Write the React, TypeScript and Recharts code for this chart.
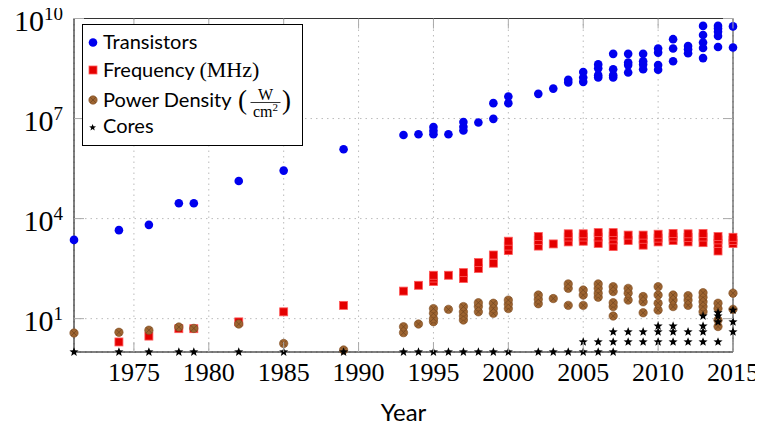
import React from 'react';
import {
  ScatterChart,
  Scatter,
  XAxis,
  YAxis,
  CartesianGrid,
  ReferenceLine,
  Legend,
} from 'recharts';

// [year, value] pairs
const transistors: [number, number][] = [
  [1971, 2300], [1974, 4500], [1976, 6500], [1978, 29000], [1979, 29000],
  [1982, 134000], [1985, 275000], [1989, 1.2e6],
  [1993, 3.2e6], [1994, 3.4e6], [1995, 3.4e6], [1995, 4.3e6], [1995, 5.6e6],
  [1996, 3.4e6], [1997, 4.4e6], [1997, 5.7e6], [1997, 7.9e6], [1998, 7.6e6],
  [1999, 9.8e6], [1999, 2.9e7], [2000, 2.9e7], [2000, 4.6e7],
  [2002, 5.5e7], [2003, 7.9e7], [2004, 1.2e8], [2004, 1.45e8],
  [2005, 1.26e8], [2005, 1.7e8], [2005, 2.5e8],
  [2006, 1.7e8], [2006, 2.0e8], [2006, 3.2e8], [2006, 4.2e8],
  [2007, 1.7e8], [2007, 2.0e8], [2007, 3.0e8], [2007, 8.7e8],
  [2008, 2.4e8], [2008, 4.0e8], [2008, 4.8e8], [2008, 8.7e8],
  [2009, 3.0e8], [2009, 4.2e8], [2009, 5.2e8], [2009, 8.7e8],
  [2010, 2.9e8], [2010, 4.0e8], [2010, 9.5e8], [2010, 1.26e9],
  [2011, 5.2e8], [2011, 1.26e9], [2011, 2.4e9],
  [2012, 9.1e8], [2012, 1.2e9], [2012, 1.5e9],
  [2013, 6.5e8], [2013, 1.3e9], [2013, 1.9e9], [2013, 3.2e9], [2013, 6.0e9],
  [2014, 1.4e9], [2014, 3.0e9], [2014, 4.0e9], [2014, 5.0e9], [2014, 6.0e9],
  [2015, 1.35e9], [2015, 5.8e9],
];

const frequency: [number, number][] = [
  [1974, 2], [1976, 3], [1978, 5], [1979, 5], [1982, 8], [1985, 16], [1989, 25],
  [1993, 67], [1994, 100], [1995, 130], [1995, 165], [1995, 200], [1996, 200],
  [1997, 160], [1997, 240], [1998, 320], [1998, 480], [1999, 460], [1999, 810],
  [2000, 1100], [2000, 1500], [2000, 2100],
  [2002, 1500], [2002, 2200], [2002, 2900], [2003, 1740],
  [2004, 2000], [2004, 2800], [2004, 3500],
  [2005, 2100], [2005, 2800], [2005, 3500],
  [2006, 1800], [2006, 2800], [2006, 3800],
  [2007, 1450], [2007, 2300], [2007, 3000], [2007, 3800],
  [2008, 2200], [2008, 3200], [2009, 1600], [2009, 2400], [2009, 3200],
  [2010, 2000], [2010, 2600], [2010, 3400],
  [2011, 2200], [2011, 2800], [2011, 3600],
  [2012, 2000], [2012, 2700], [2012, 3500],
  [2013, 1900], [2013, 2800], [2013, 3600],
  [2014, 1070], [2014, 1800], [2014, 2300], [2014, 2900],
  [2015, 1800], [2015, 2200], [2015, 2750],
];

const powerDensity: [number, number][] = [
  [1971, 3.7], [1974, 3.9], [1976, 4.5], [1978, 5.6], [1979, 5.1], [1982, 6.9],
  [1985, 1.8], [1989, 1.15],
  [1993, 3.8], [1993, 5.7], [1994, 6.9],
  [1995, 8.1], [1995, 10], [1995, 14.5], [1995, 20], [1996, 19],
  [1997, 9.1], [1997, 12], [1997, 16], [1997, 23],
  [1998, 16], [1998, 23], [1998, 30], [1999, 14.5], [1999, 20], [1999, 29],
  [2000, 20], [2000, 27], [2000, 36],
  [2002, 28], [2002, 38], [2002, 51], [2003, 40],
  [2004, 25], [2004, 81], [2004, 110], [2005, 25], [2005, 51], [2005, 72],
  [2006, 44], [2006, 58], [2006, 81], [2006, 110],
  [2007, 12], [2007, 23], [2007, 30], [2007, 65], [2007, 91],
  [2008, 36], [2008, 58], [2008, 81], [2009, 15], [2009, 32], [2009, 46],
  [2010, 18], [2010, 29], [2010, 51], [2010, 91],
  [2011, 23], [2011, 36], [2011, 51], [2012, 25], [2012, 36], [2012, 49],
  [2013, 16], [2013, 23], [2013, 32], [2013, 44], [2013, 60],
  [2014, 5.8], [2014, 9.1], [2014, 20], [2014, 29],
  [2015, 19], [2015, 58],
];

const cores: [number, number][] = [
  [1971, 1], [1974, 1], [1976, 1], [1978, 1], [1979, 1], [1982, 1], [1985, 1], [1989, 1],
  [1993, 1], [1994, 1], [1995, 1], [1996, 1], [1997, 1], [1998, 1], [1999, 1], [2000, 1],
  [2002, 1], [2003, 1], [2004, 1], [2005, 1], [2006, 1], [2007, 1],
  [2005, 2], [2006, 2], [2007, 2], [2008, 2], [2009, 2], [2010, 2], [2011, 2],
  [2012, 2], [2013, 2], [2014, 2],
  [2007, 4], [2008, 4], [2009, 4], [2010, 4], [2011, 4], [2012, 4], [2013, 4], [2015, 4],
  [2010, 6], [2011, 6], [2013, 6],
  [2014, 8], [2015, 8], [2013, 12], [2014, 12], [2014, 15], [2015, 18],
];

const yearTicks = [1975, 1980, 1985, 1990, 1995, 2000, 2005, 2010, 2015];
const valueTicks = [1e1, 1e4, 1e7, 1e10];

const WIDTH = 763;
const HEIGHT = 427;
const MARGIN = { top: 18.5, right: 30, left: 0, bottom: 0 };
const PLOT_TOP = MARGIN.top;
const PLOT_RIGHT = WIDTH - MARGIN.right;
const TICK_LEN = 10;

const SERIF = '"Liberation Serif", "DejaVu Serif", serif';
const SANS = 'Lato, "Open Sans", sans-serif';

const toPoints = (rows: [number, number][]) => rows.map(([year, value]) => ({ year, value }));

const BlueDot = ({ cx, cy }: any) => <circle cx={cx} cy={cy} r={4.3} fill="#0000ee" />;

const RedSquare = ({ cx, cy }: any) => (
  <rect x={cx - 4} y={cy - 4} width={8} height={8} fill="#e40000" stroke="#ff5a5a" strokeWidth={0.8} />
);

const BrownDot = ({ cx, cy }: any) => {
  const d = 4.2 * Math.SQRT1_2;
  return (
    <g>
      <circle cx={cx} cy={cy} r={4.2} fill="#9e6531" stroke="#7d4c22" strokeWidth={0.6} />
      <path
        d={`M${cx - d},${cy - d}L${cx + d},${cy + d}M${cx - d},${cy + d}L${cx + d},${cy - d}`}
        stroke="#6e4420"
        strokeWidth={0.7}
      />
    </g>
  );
};

const StarMark = ({ cx, cy, r = 4.8 }: any) => {
  const pts: string[] = [];
  for (let k = 0; k < 10; k++) {
    const a = ((-90 + 36 * k) * Math.PI) / 180;
    const rr = k % 2 === 0 ? r : r * 0.42;
    pts.push(`${cx + rr * Math.cos(a)},${cy + rr * Math.sin(a)}`);
  }
  return <polygon points={pts.join(' ')} fill="#000" />;
};

const YearTick = ({ x, y, payload }: any) => (
  <g>
    <line x1={x} y1={y} x2={x} y2={y - TICK_LEN} stroke="#aaa" />
    <line x1={x} y1={PLOT_TOP} x2={x} y2={PLOT_TOP + TICK_LEN} stroke="#aaa" />
    <text x={x} y={y + 29} textAnchor="middle" fontFamily={SERIF} fontSize={26} fill="#000">
      {payload.value}
    </text>
  </g>
);

const PowerTick = ({ x, y, payload }: any) => {
  const exp = Math.round(Math.log10(payload.value));
  return (
    <g>
      <line x1={x} y1={y} x2={x + TICK_LEN} y2={y} stroke="#aaa" />
      <line x1={PLOT_RIGHT - TICK_LEN} y1={y} x2={PLOT_RIGHT} y2={y} stroke="#aaa" />
      <text x={x - 11} y={y + 12.5} textAnchor="end" fontFamily={SERIF} fill="#000">
        <tspan fontSize={30}>10</tspan>
        <tspan fontSize={19} dy={-11}>{exp}</tspan>
      </text>
    </g>
  );
};

const LegendBox = () => (
  <svg width={222} height={123} style={{ display: 'block' }}>
    <rect x={0.5} y={0.5} width={220} height={121} fill="#fff" stroke="#000" />
    <BlueDot cx={11} cy={18.5} />
    <text x={21} y={25} fontFamily={SANS} fontSize={20}>Transistors</text>
    <RedSquare cx={11} cy={46} />
    <text x={21} y={52.7} fontFamily={SANS} fontSize={20}>
      Frequency <tspan fontFamily={SERIF} fontSize={22}>(MHz)</tspan>
    </text>
    <BrownDot cx={11} cy={76} />
    <text x={21} y={82.7} fontFamily={SANS} fontSize={20}>Power Density</text>
    <text x={156} y={85} fontFamily={SERIF} fontSize={27}>(</text>
    <text x={183.5} y={75.5} fontFamily={SERIF} fontSize={16} textAnchor="middle">W</text>
    <line x1={168.5} y1={78.5} x2={198.5} y2={78.5} stroke="#000" strokeWidth={0.8} />
    <text x={183.5} y={92.5} fontFamily={SERIF} fontSize={16} textAnchor="middle">
      cm<tspan fontSize={11} dy={-6}>2</tspan>
    </text>
    <text x={200} y={85} fontFamily={SERIF} fontSize={27}>)</text>
    <StarMark cx={10.6} cy={103.5} r={3.6} />
    <text x={21} y={109.3} fontFamily={SANS} fontSize={20}>Cores</text>
  </svg>
);

export default function App() {
  return (
    <div style={{ margin: '-8px 0 0 -8px' }}>
      <ScatterChart width={WIDTH} height={HEIGHT} margin={MARGIN}>
        <CartesianGrid stroke="#bbb" strokeDasharray="1.5 4" />
        <XAxis
          type="number"
          dataKey="year"
          domain={[1971, 2015]}
          ticks={yearTicks}
          interval={0}
          height={75}
          tickSize={0}
          tickMargin={0}
          tick={<YearTick />}
          axisLine={{ stroke: '#000' }}
          label={{ value: 'Year', position: 'insideBottom', offset: 6, fontFamily: SANS, fontSize: 24, fill: '#000' }}
        />
        <YAxis
          type="number"
          dataKey="value"
          scale="log"
          domain={[1, 1e10]}
          ticks={valueTicks}
          interval={0}
          width={74}
          tickSize={0}
          tickMargin={0}
          tick={<PowerTick />}
          axisLine={{ stroke: '#000' }}
        />
        <ReferenceLine y={1e10} stroke="#333" />
        <ReferenceLine x={2015} stroke="#333" />
        <Legend
          layout="vertical"
          align="center"
          verticalAlign="middle"
          wrapperStyle={{ left: 82, top: 24, width: 222, height: 123 }}
          content={() => <LegendBox />}
        />
        <Scatter name="Transistors" data={toPoints(transistors)} shape={<BlueDot />} isAnimationActive={false} />
        <Scatter name="Frequency (MHz)" data={toPoints(frequency)} shape={<RedSquare />} isAnimationActive={false} />
        <Scatter name="Power Density" data={toPoints(powerDensity)} shape={<BrownDot />} isAnimationActive={false} />
        <Scatter name="Cores" data={toPoints(cores)} shape={<StarMark />} isAnimationActive={false} />
      </ScatterChart>
    </div>
  );
}
